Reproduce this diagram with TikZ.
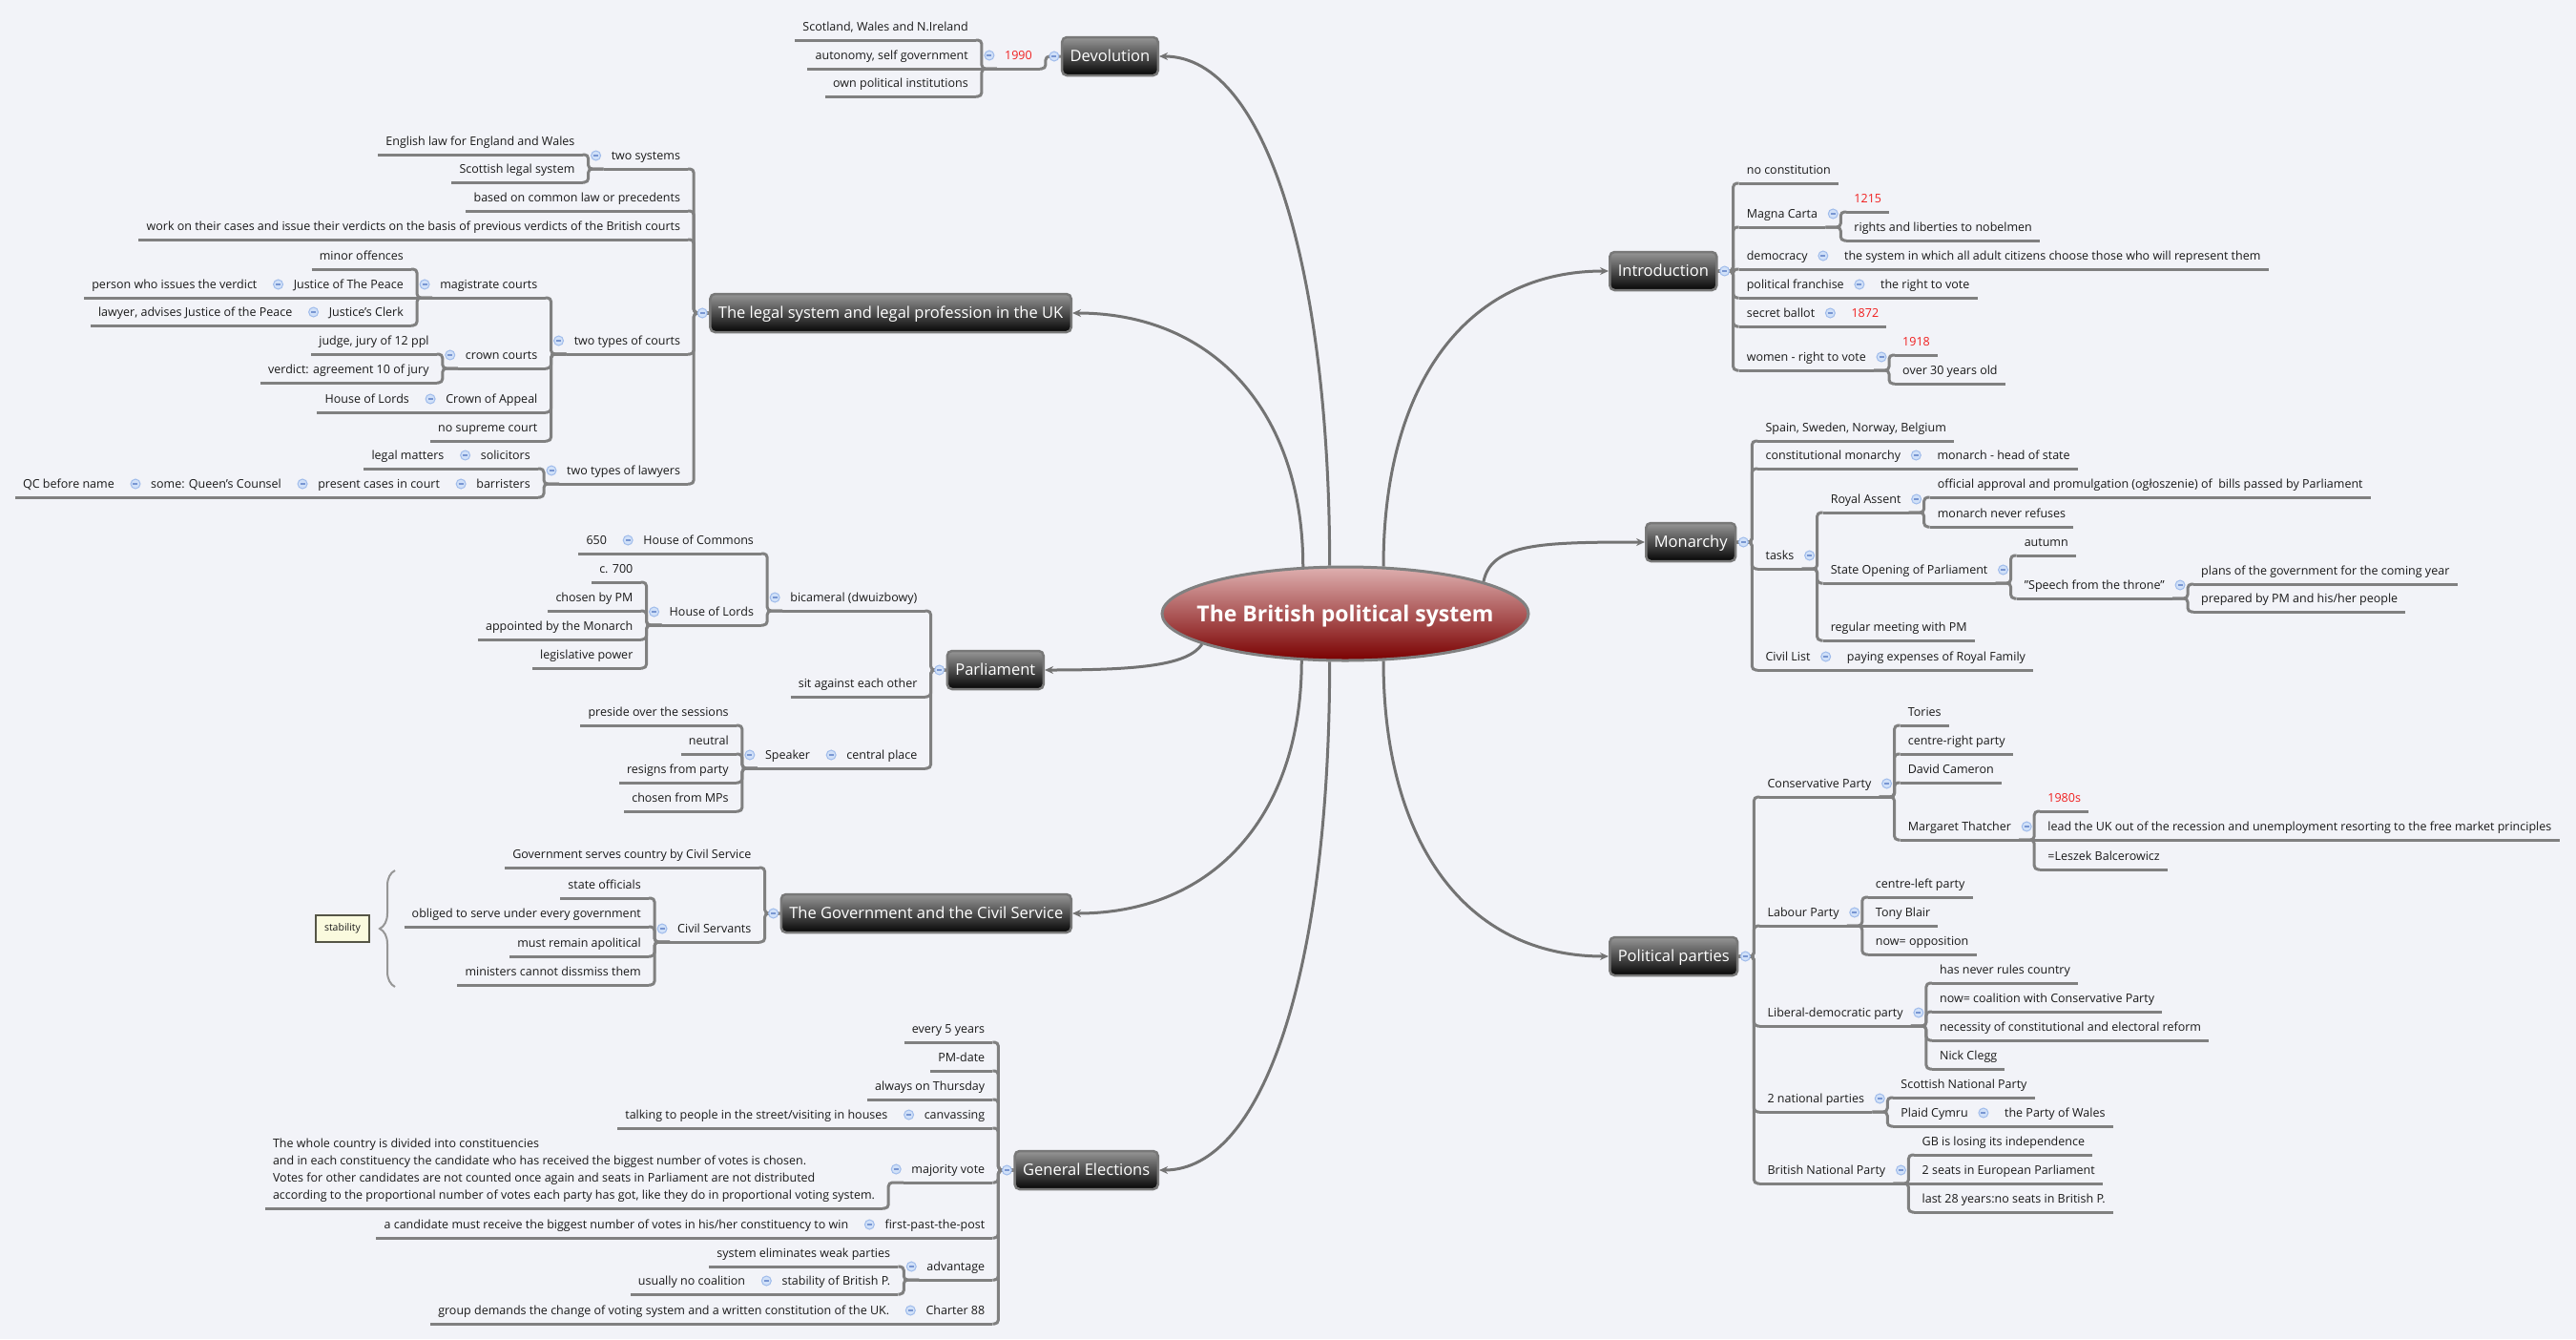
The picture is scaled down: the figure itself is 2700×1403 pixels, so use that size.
\documentclass[tikz,border=0pt]{standalone}
\usepackage{fontspec}
\setmainfont{Open Sans}
\usetikzlibrary{arrows.meta,shapes.geometric,decorations.pathreplacing,calc}
\definecolor{bgc}{RGB}{242,243,248}
\definecolor{lnc}{RGB}{128,128,128}
\definecolor{mcc}{RGB}{115,115,115}
\definecolor{txc}{RGB}{25,25,25}
\definecolor{redc}{RGB}{240,30,30}
\definecolor{cmf}{RGB}{208,224,248}
\definecolor{cmd}{RGB}{160,188,235}
\definecolor{cmm}{RGB}{120,150,210}
\definecolor{boxtop}{RGB}{150,150,150}
\definecolor{boxbot}{RGB}{5,5,5}
\definecolor{boxbd}{RGB}{120,120,120}
\definecolor{ctop}{RGB}{222,176,176}
\definecolor{cbot}{RGB}{122,0,0}
\definecolor{stabf}{RGB}{250,250,222}
\definecolor{stabd}{RGB}{85,85,70}
\definecolor{brcc}{RGB}{150,150,150}
\newcommand\lfnt{\fontsize{12.5}{15}\selectfont}
\newcommand\bxfnt{\fontsize{16.5}{20}\selectfont}
\newcommand\ctfnt{\fontsize{23}{28}\selectfont\bfseries}
\tikzset{
  ul/.style={draw=lnc, line width=3pt},
  lf/.style={font=\lfnt, text=txc, inner xsep=8pt, inner ysep=6pt, text height=9.5pt, text depth=3pt,
    append after command={(\tikzlastnode.south west) edge[ul] (\tikzlastnode.south east)}},
  lfm/.style={text height={}, text depth={}, align=left, font=\fontsize{12.5}{18}\selectfont},
  rd/.style={text=redc},
  br/.style={draw=lnc, line width=3pt, rounded corners=4pt},
  bx/.style={rounded corners=5pt, draw=boxbd, line width=2.5pt, top color=boxtop, bottom color=boxbot,
    text=white, font=\bxfnt, inner xsep=8.5pt, inner ysep=0pt, minimum height=40pt, text height=13pt, text depth=1.5pt},
  ctr/.style={ellipse, minimum width=384pt, minimum height=98pt, inner sep=0pt, draw=lnc, line width=3pt,
    top color=ctop, bottom color=cbot},
  ctt/.style={text=white, font=\ctfnt, inner sep=0pt},
  mc/.style={draw=mcc, line width=3pt, -{Stealth[length=9pt,width=8pt]}},
  cmk/.style={fill=cmf, draw=cmd, line width=1pt},
  cmn/.style={draw=cmm, line width=1.2pt},
  stbx/.style={draw=stabd, fill=stabf, line width=2.5pt, font=\fontsize{10.5}{12}\selectfont, text=txc,
    minimum width=56pt, minimum height=28pt, inner sep=2pt},
  brc/.style={draw=brcc, line width=2pt, decorate, decoration={brace, amplitude=16pt}}
}
% left child with trunk / inline
\newcommand\LC[5][]{%
  \path let \p1=(#3) in (\x1-22pt,-#4pt) node[lf,anchor=south east,#1] (#2) {#5};
  \draw[br] (#3) -- ++(-16pt,0) |- (#2.south east);}
\newcommand\LI[5][]{%
  \path let \p1=(#3) in (\x1-22pt,\y1) node[lf,anchor=south east,#1] (#2) {#5};
  \draw[br] (#3) -- (#2.south east);}
\newcommand\RC[5][]{%
  \path let \p1=(#3) in (\x1+22pt,-#4pt) node[lf,anchor=south west,#1] (#2) {#5};
  \draw[br] (#3) -- ++(16pt,0) |- (#2.south west);}
\newcommand\RI[5][]{%
  \path let \p1=(#3) in (\x1+22pt,\y1) node[lf,anchor=south west,#1] (#2) {#5};
  \draw[br] (#3) -- (#2.south west);}
% collapse markers
\newcommand\CR[1]{\filldraw[cmk] ([xshift=8pt,yshift=14pt]#1.south east) circle (5pt);
  \draw[cmn] ([xshift=5.5pt,yshift=14pt]#1.south east) -- ([xshift=10.5pt,yshift=14pt]#1.south east);}
\newcommand\CL[1]{\filldraw[cmk] ([xshift=-8pt,yshift=14pt]#1.south west) circle (5pt);
  \draw[cmn] ([xshift=-10.5pt,yshift=14pt]#1.south west) -- ([xshift=-5.5pt,yshift=14pt]#1.south west);}
\newcommand\CBR[1]{\filldraw[cmk] ([xshift=7pt]#1.east) circle (5pt);
  \draw[cmn] ([xshift=4.5pt]#1.east) -- ([xshift=9.5pt]#1.east);}
\newcommand\CBL[1]{\filldraw[cmk] ([xshift=-7pt]#1.west) circle (5pt);
  \draw[cmn] ([xshift=-9.5pt]#1.west) -- ([xshift=-4.5pt]#1.west);}
\begin{document}
\begin{tikzpicture}[x=1pt,y=-1pt]
\fill[bgc] (0,0) rectangle (2700,1403);
\useasboundingbox (0,0) rectangle (2700,1403);

% central topic
\node[ctr] (c) at (1410,643) {};
\node[ctt] (ct) at (1410,645.5) {The British political system};

% main topics
\node[bx, anchor=east] (devo) at (1215,59) {Devolution};
\node[bx, anchor=east] (legal) at (1124,328) {The legal system and legal profession in the UK};
\node[bx, anchor=east] (parl) at (1095,702) {Parliament};
\node[bx, anchor=east] (gov) at (1124,957) {The Government and the Civil Service};
\node[bx, anchor=east] (gen) at (1215,1226) {General Elections};
\node[bx, anchor=west] (intro) at (1686,284) {Introduction};
\node[bx, anchor=west] (mon) at (1724,568) {Monarchy};
\node[bx, anchor=west] (pp) at (1686,1002) {Political parties};

% main curves
\draw[mc] (c.108) .. controls +(0,-300) and +(115,0) .. (devo.east);
\draw[mc] (c.132.5) .. controls +(0,-160) and +(150,0) .. (legal.east);
\draw[mc] (c.51) .. controls +(0,-190) and +(-150,0) .. (intro.west);
\draw[mc] (c.13) .. controls +(8,-40) and +(-110,0) .. (mon.west);
\draw[mc] (c.192) .. controls +(-15,22) and +(100,0) .. (parl.east);
\draw[mc] (c.227.5) .. controls +(0,160) and +(150,0) .. (gov.east);
\draw[mc] (c.252) .. controls +(0,320) and +(110,0) .. (gen.east);
\draw[mc] (c.309) .. controls +(0,190) and +(-150,0) .. (pp.west);

% Devolution
\LC[rd]{y1990}{devo.west}{72}{1990}
\LC{scw}{y1990.south west}{42}{Scotland, Wales and N.Ireland}
\LI{auto}{y1990.south west}{72}{autonomy, self government}
\LC{opi}{y1990.south west}{101}{own political institutions}

% Legal system
\LC{ts}{legal.west}{177}{two systems}
\LC{bcl}{legal.west}{221}{based on common law or precedents}
\LC{work}{legal.west}{251}{work on their cases and issue their verdicts on the basis of previous verdicts of the British courts}
\LC{tcourts}{legal.west}{371}{two types of courts}
\LC{tlaw}{legal.west}{507}{two types of lawyers}
\LC{eng}{ts.south west}{162}{English law for England and Wales}
\LC{scot}{ts.south west}{191}{Scottish legal system}
\LC{mag}{tcourts.south west}{312}{magistrate courts}
\LC{crown}{tcourts.south west}{386}{crown courts}
\LC{coa}{tcourts.south west}{432}{Crown of Appeal}
\LC{nosup}{tcourts.south west}{462}{no supreme court}
\LC{minor}{mag.south west}{282}{minor offences}
\LI{jop}{mag.south west}{312}{Justice of The Peace}
\LC{jc}{mag.south west}{341}{Justice's Clerk}
\LI{piv}{jop.south west}{312}{person who issues the verdict}
\LI{lawyer}{jc.south west}{341}{lawyer, advises Justice of the Peace}
\LC{judge}{crown.south west}{371}{judge, jury of 12 ppl}
\LC{verd}{crown.south west}{401}{verdict: agreement 10 of jury}
\LI{hol1}{coa.south west}{432}{House of Lords}
\LC{sol}{tlaw.south west}{491}{solicitors}
\LC{bar}{tlaw.south west}{521}{barristers}
\LI{legm}{sol.south west}{491}{legal matters}
\LI{pres}{bar.south west}{521}{present cases in court}
\LI{qcs}{pres.south west}{521}{some: Queen's Counsel}
\LI{qcn}{qcs.south west}{521}{QC before name}

% Parliament
\LC{bic}{parl.west}{640}{bicameral (dwuizbowy)}
\LC{sit}{parl.west}{730}{sit against each other}
\LC{cen}{parl.west}{805}{central place}
\LC{hoc}{bic.south west}{580}{House of Commons}
\LC{hol}{bic.south west}{655}{House of Lords}
\LI{n650}{hoc.south west}{580}{650}
\LC{c700}{hol.south west}{610}{c. 700}
\LC{cbpm}{hol.south west}{640}{chosen by PM}
\LC{abm}{hol.south west}{670}{appointed by the Monarch}
\LC{legp}{hol.south west}{700}{legislative power}
\LI{spk}{cen.south west}{805}{Speaker}
\LC{pres2}{spk.south west}{760}{preside over the sessions}
\LC{neut}{spk.south west}{790}{neutral}
\LC{resg}{spk.south west}{820}{resigns from party}
\LC{cfm}{spk.south west}{850}{chosen from MPs}

% Government
\LC{gsc}{gov.west}{909}{Government serves country by Civil Service}
\LC{cs}{gov.west}{987}{Civil Servants}
\LC{so}{cs.south west}{941}{state officials}
\LC{obl}{cs.south west}{971}{obliged to serve under every government}
\LC{mra}{cs.south west}{1002}{must remain apolitical}
\LC{mcd}{cs.south west}{1032}{ministers cannot dissmiss them}
\draw[brc] (414,1034) -- (414,912);
\node[stbx] (stabB) at (359,973) {stability};

% General Elections
\LC{e5}{gen.west}{1092}{every 5 years}
\LC{pmd}{gen.west}{1122}{PM-date}
\LC{thu}{gen.west}{1152}{always on Thursday}
\LC{canv}{gen.west}{1182}{canvassing}
\LC{maj}{gen.west}{1239}{majority vote}
\LC{fptp}{gen.west}{1297}{first-past-the-post}
\LC{adv}{gen.west}{1341}{advantage}
\LC{ch88}{gen.west}{1387}{Charter 88}
\LI{talk}{canv.south west}{1182}{talking to people in the street/visiting in houses}
\LC[lfm]{whole}{maj.south west}{1266}{The whole country is divided into constituencies\\and in each constituency the candidate who has received the biggest number of votes is chosen.\\Votes for other candidates are not counted once again and seats in Parliament are not distributed\\according to the proportional number of votes each party has got, like they do in proportional voting system.}
\LI{cand}{fptp.south west}{1297}{a candidate must receive the biggest number of votes in his/her constituency to win}
\LC{sys}{adv.south west}{1327}{system eliminates weak parties}
\LC{stbp}{adv.south west}{1356}{stability of British P.}
\LI{unc}{stbp.south west}{1356}{usually no coalition}
\LI{grp}{ch88.south west}{1387}{group demands the change of voting system and a written constitution of the UK.}

% Introduction
\RC{nocon}{intro.east}{192}{no constitution}
\RC{magna}{intro.east}{238}{Magna Carta}
\RC{demo}{intro.east}{282}{democracy}
\RC{pf}{intro.east}{312}{political franchise}
\RC{sb}{intro.east}{342}{secret ballot}
\RC{wom}{intro.east}{388}{women - right to vote}
\RC[rd]{y1215}{magna.south east}{222}{1215}
\RC{rights}{magna.south east}{252}{rights and liberties to nobelmen}
\RI{sysdef}{demo.south east}{282}{the system in which all adult citizens choose those who will represent them}
\RI{rtv}{pf.south east}{312}{the right to vote}
\RI[rd]{y1872}{sb.south east}{342}{1872}
\RC[rd]{y1918}{wom.south east}{372}{1918}
\RC{o30}{wom.south east}{402}{over 30 years old}

% Monarchy
\RC{ssnb}{mon.east}{462}{Spain, Sweden, Norway, Belgium}
\RC{cmon}{mon.east}{491}{constitutional monarchy}
\RC{tasks}{mon.east}{596}{tasks}
\RC{civ}{mon.east}{702}{Civil List}
\RI{mhs}{cmon.south east}{491}{monarch - head of state}
\RC{ra}{tasks.south east}{537}{Royal Assent}
\RC{sop}{tasks.south east}{611}{State Opening of Parliament}
\RC{rmp}{tasks.south east}{671}{regular meeting with PM}
\RC{oap}{ra.south east}{521}{official approval and promulgation (ogłoszenie) of \ bills passed by Parliament}
\RC{mnr}{ra.south east}{552}{monarch never refuses}
\RC{aut}{sop.south east}{582}{autumn}
\RC{sft}{sop.south east}{627}{"Speech from the throne"}
\RC{plans}{sft.south east}{612}{plans of the government for the coming year}
\RC{prep}{sft.south east}{641}{prepared by PM and his/her people}
\RI{pay}{civ.south east}{702}{paying expenses of Royal Family}

% Political parties
\RC{cons}{pp.east}{835}{Conservative Party}
\RC{lab}{pp.east}{970}{Labour Party}
\RC{lib}{pp.east}{1075}{Liberal-democratic party}
\RC{nat}{pp.east}{1165}{2 national parties}
\RC{bnp}{pp.east}{1240}{British National Party}
\RC{tor}{cons.south east}{760}{Tories}
\RC{crp}{cons.south east}{790}{centre-right party}
\RC{dc}{cons.south east}{820}{David Cameron}
\RC{mt}{cons.south east}{880}{Margaret Thatcher}
\RC[rd]{y1980}{mt.south east}{850}{1980s}
\RI{lead}{mt.south east}{880}{lead the UK out of the recession and unemployment resorting to the free market principles}
\RC{lesz}{mt.south east}{911}{=Leszek Balcerowicz}
\RC{clp}{lab.south east}{940}{centre-left party}
\RI{tb}{lab.south east}{970}{Tony Blair}
\RC{nop}{lab.south east}{1000}{now= opposition}
\RC{hnr}{lib.south east}{1030}{has never rules country}
\RC{ncoal}{lib.south east}{1060}{now= coalition with Conservative Party}
\RC{nec}{lib.south east}{1090}{necessity of constitutional and electoral reform}
\RC{nick}{lib.south east}{1120}{Nick Clegg}
\RC{snp}{nat.south east}{1150}{Scottish National Party}
\RC{plaid}{nat.south east}{1180}{Plaid Cymru}
\RI{pow}{plaid.south east}{1180}{the Party of Wales}
\RC{gbl}{bnp.south east}{1210}{GB is losing its independence}
\RI{seats}{bnp.south east}{1240}{2 seats in European Parliament}
\RC{l28}{bnp.south east}{1270}{last 28 years:no seats in British P.}

% collapse markers
\foreach \n in {y1990,ts,tcourts,tlaw,mag,jop,jc,crown,coa,sol,bar,pres,qcs,bic,cen,hoc,hol,spk,cs,canv,maj,fptp,adv,stbp,ch88} {\CL{\n}}
\foreach \n in {magna,demo,pf,sb,wom,cmon,tasks,ra,sop,sft,civ,cons,mt,lab,lib,nat,plaid,bnp} {\CR{\n}}
\foreach \n in {devo,legal,parl,gov,gen} {\CBL{\n}}
\foreach \n in {intro,mon,pp} {\CBR{\n}}
\end{tikzpicture}
\end{document}
